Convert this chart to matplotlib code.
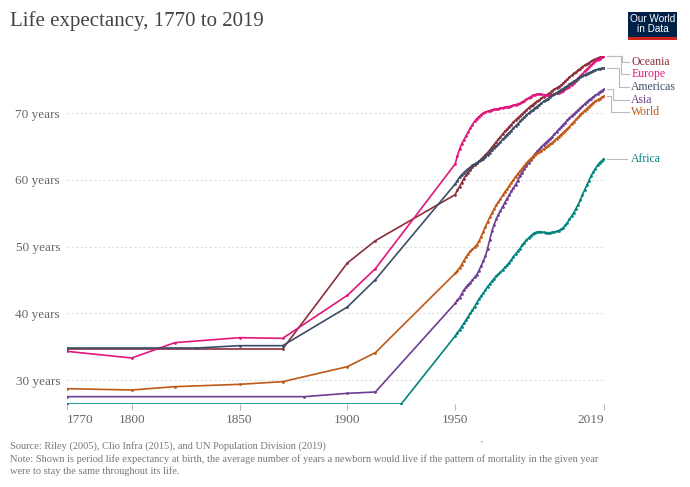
import matplotlib
matplotlib.use("Agg")
import matplotlib.pyplot as plt
from matplotlib.patches import Rectangle

# ---- data ----
years_annual = list(range(1950, 2020))

oceania_years = [1770, 1870, 1900, 1913] + years_annual
oceania = [34.65, 34.65, 47.55, 50.9,
           57.8, 58.5, 59.0, 59.6, 60.2, 60.7, 61.1, 61.5, 61.9, 62.2,
           62.5, 62.8, 63.1, 63.4, 63.8, 64.1, 64.5, 64.9, 65.3, 65.7,
           66.1, 66.5, 66.9, 67.3, 67.6, 68.0, 68.3, 68.7, 69.0, 69.3,
           69.6, 69.9, 70.2, 70.5, 70.8, 71.1, 71.3, 71.6, 71.8, 72.0,
           72.3, 72.5, 72.7, 72.9, 73.1, 73.4, 73.6, 73.8, 74.0, 74.2,
           74.5, 74.8, 75.1, 75.4, 75.7, 76.0, 76.2, 76.5, 76.7, 77.0,
           77.2, 77.4, 77.6, 77.8, 78.0, 78.1, 78.3, 78.4, 78.5, 78.6]

europe_years = [1770, 1800, 1820, 1850, 1870, 1900, 1913] + years_annual
europe = [34.3, 33.3, 35.6, 36.35, 36.25, 42.7, 46.7,
          62.4, 63.6, 64.6, 65.4, 66.0, 66.6, 67.2, 67.8, 68.3, 68.8,
          69.2, 69.5, 69.8, 70.0, 70.2, 70.3, 70.4, 70.5, 70.6, 70.6,
          70.7, 70.8, 70.85, 70.9, 71.0, 71.0, 71.1, 71.2, 71.3, 71.4,
          71.5, 71.7, 71.9, 72.1, 72.3, 72.5, 72.7, 72.8, 72.9, 72.9,
          72.85, 72.8, 72.75, 72.7, 72.75, 72.8, 72.9, 73.0, 73.1, 73.2,
          73.4, 73.6, 73.8, 74.0, 74.3, 74.6, 74.9, 75.3, 75.6, 75.9,
          76.3, 76.6, 76.9, 77.2, 77.5, 77.8, 78.0, 78.2, 78.4, 78.6]

americas_years = [1770, 1830, 1850, 1870, 1900, 1913] + years_annual
americas = [34.8, 34.8, 35.15, 35.15, 40.95, 45.05,
            59.4, 59.9, 60.4, 60.8, 61.1, 61.4, 61.7, 61.9, 62.2, 62.4,
            62.6, 62.8, 63.0, 63.2, 63.5, 63.8, 64.1, 64.5, 64.8, 65.1,
            65.4, 65.7, 66.1, 66.4, 66.8, 67.1, 67.4, 67.8, 68.1, 68.4,
            68.8, 69.1, 69.4, 69.7, 70.0, 70.3, 70.5, 70.8, 71.0, 71.3,
            71.5, 71.8, 72.0, 72.2, 72.5, 72.7, 72.9, 73.1, 73.3, 73.5,
            73.7, 73.9, 74.1, 74.4, 74.6, 74.8, 75.0, 75.2, 75.4, 75.6,
            75.8, 75.9, 76.1, 76.2, 76.4, 76.5, 76.6, 76.7, 76.75, 76.8]

asia_years = [1770, 1880, 1900, 1913] + years_annual
asia = [27.5, 27.5, 28.0, 28.2,
        41.5, 42.0, 42.3, 42.9, 43.5, 43.9, 44.3, 44.6, 45.0, 45.4,
        45.8, 46.4, 47.1, 47.8, 48.6, 49.7, 51.0, 52.3, 53.3, 54.1,
        54.8, 55.4, 56.0, 56.6, 57.2, 57.7, 58.3, 58.8, 59.3, 59.9,
        60.6, 61.1, 61.6, 62.1, 62.6, 63.0, 63.5, 63.9, 64.3, 64.6,
        65.0, 65.3, 65.6, 65.9, 66.2, 66.5, 66.9, 67.2, 67.6, 67.9,
        68.3, 68.6, 69.0, 69.3, 69.6, 69.9, 70.2, 70.5, 70.8, 71.1,
        71.4, 71.7, 72.0, 72.2, 72.5, 72.7, 72.9, 73.2, 73.4, 73.6]

world_years = [1770, 1800, 1820, 1850, 1870, 1900, 1913] + years_annual
world = [28.7, 28.5, 29.0, 29.35, 29.75, 32.0, 34.1,
         46.0, 46.4, 46.8, 47.3, 47.9, 48.4, 48.9, 49.3, 49.6, 49.9,
         50.3, 50.8, 51.5, 52.2, 53.0, 53.7, 54.4, 55.0, 55.6, 56.2,
         56.7, 57.2, 57.7, 58.2, 58.6, 59.1, 59.6, 60.0, 60.5, 60.9,
         61.3, 61.7, 62.1, 62.5, 62.9, 63.2, 63.5, 63.8, 64.0, 64.2,
         64.4, 64.6, 64.9, 65.1, 65.4, 65.6, 65.9, 66.2, 66.5, 66.8,
         67.1, 67.4, 67.7, 68.0, 68.4, 68.7, 69.1, 69.4, 69.8, 70.1,
         70.4, 70.7, 71.0, 71.3, 71.6, 71.8, 72.0, 72.2, 72.4, 72.6]

africa_years = [1770, 1925] + years_annual
africa = [26.4, 26.4,
          36.6, 37.1, 37.5, 38.0, 38.5, 39.0, 39.5, 40.0, 40.5, 41.0,
          41.6, 42.1, 42.6, 43.0, 43.5, 44.0, 44.4, 44.8, 45.2, 45.6,
          45.9, 46.2, 46.5, 46.9, 47.2, 47.6, 48.0, 48.5, 48.9, 49.3,
          49.7, 50.2, 50.6, 51.0, 51.3, 51.6, 51.9, 52.1, 52.2, 52.25,
          52.2, 52.15, 52.1, 52.1, 52.1, 52.15, 52.2, 52.3, 52.4, 52.6,
          52.8, 53.2, 53.6, 54.1, 54.6, 55.1, 55.7, 56.3, 57.0, 57.8,
          58.5, 59.2, 59.9, 60.6, 61.2, 61.7, 62.2, 62.6, 62.9, 63.2]

names = ["Oceania", "Europe", "Americas", "Asia", "World", "Africa"]
colors = ["#8a2f3b", "#e0167b", "#3c4e66", "#6d3e91", "#c05917", "#00847e"]
xs = [oceania_years, europe_years, americas_years, asia_years, world_years, africa_years]
ys = [oceania, europe, americas, asia, world, africa]

xticks = [1770, 1800, 1850, 1900, 1950, 2019]
yticks = [30, 40, 50, 60, 70]

# label placement (value units) for the right-hand labels
label_pos = [77.75, 75.95, 74.0, 72.05, 70.25, 63.2]
elbow_x = [2027.3, 2026.7, 2025.9, 2023.4, 2022.2, None]

plt.rcParams['font.family'] = ['Liberation Serif', 'DejaVu Serif']

fig = plt.figure(figsize=(6.9, 4.87), dpi=100)
ax = fig.add_axes([67/690, 1 - 404/487, 537/690, 348.4/487])

for x, y, c in zip(xs, ys, colors):
    ax.plot(x, y, color=c, lw=1.2, marker='o', ms=2.0, mew=0, zorder=3)

ax.set_xlim(1770, 2019)
ax.set_ylim(26.4, 78.66)
for v in yticks:
    ax.axhline(v, color='#dddddd', lw=0.8, ls=(0, (2, 2)), zorder=1)
for s in ax.spines.values():
    s.set_visible(False)
ax.set_yticks(yticks)
ax.set_yticklabels([f"{v} years" for v in yticks], fontsize=9.5, color='#666666')
ax.tick_params(axis='y', length=0, pad=5)
ax.set_xticks(xticks)
ax.set_xticklabels([str(t) for t in xticks], fontsize=9.5, color='#666666')
ax.tick_params(axis='x', length=4, color='#bbbbbb', width=0.8, pad=3)
tl = ax.get_xticklabels()
tl[0].set_ha('left')
tl[-1].set_ha('right')

# right-hand labels with connectors
for name, c, y, lp, ex in zip(names, colors, ys, label_pos, elbow_x):
    y_end = y[-1]
    if ex is None:
        ax.plot([2020.2, 2029.6], [y_end, y_end], color='#bbbbbb', lw=0.8, clip_on=False)
    else:
        ax.plot([2020.2, ex, ex, 2030.4], [y_end, y_end, lp, lp], color='#bbbbbb', lw=0.8,
                clip_on=False)
    ax.text(2031.6, lp, name, color=c, fontsize=8.5, va='center', ha='left', clip_on=False)

# title and footer
fig.text(10/690, 1 - 21/487, "Life expectancy, 1770 to 2019", fontsize=15, color='#444444',
         va='center', ha='left')
fig.text(10/690, 1 - 446/487,
         "Source: Riley (2005), Clio Infra (2015), and UN Population Division (2019)",
         fontsize=7.5, color='#777777', va='center', ha='left')
fig.text(10/690, 1 - 465.5/487,
         "Note: Shown is period life expectancy at birth, the average number of years a newborn "
         "would live if the pattern of mortality in the given year\nwere to stay the same "
         "throughout its life.", fontsize=7.5, color='#777777', va='center', ha='left',
         linespacing=1.3)
fig.text(482/690, 1 - 442/487, "\u2022", fontsize=4, color='#777777', ha='center', va='center')

# logo
fig.patches.append(Rectangle((628/690, 1 - 40/487), 49/690, 28/487, transform=fig.transFigure,
                             facecolor='#002147', edgecolor='none'))
fig.patches.append(Rectangle((628/690, 1 - 40/487), 49/690, 3/487, transform=fig.transFigure,
                             facecolor='#ce261e', edgecolor='none'))
fig.text(652.5/690, 1 - 24.5/487, "Our World\nin Data", fontsize=7.2, color='white',
         family='Liberation Sans', ha='center', va='center', linespacing=1.0)

fig.savefig("out.png", dpi=100)
